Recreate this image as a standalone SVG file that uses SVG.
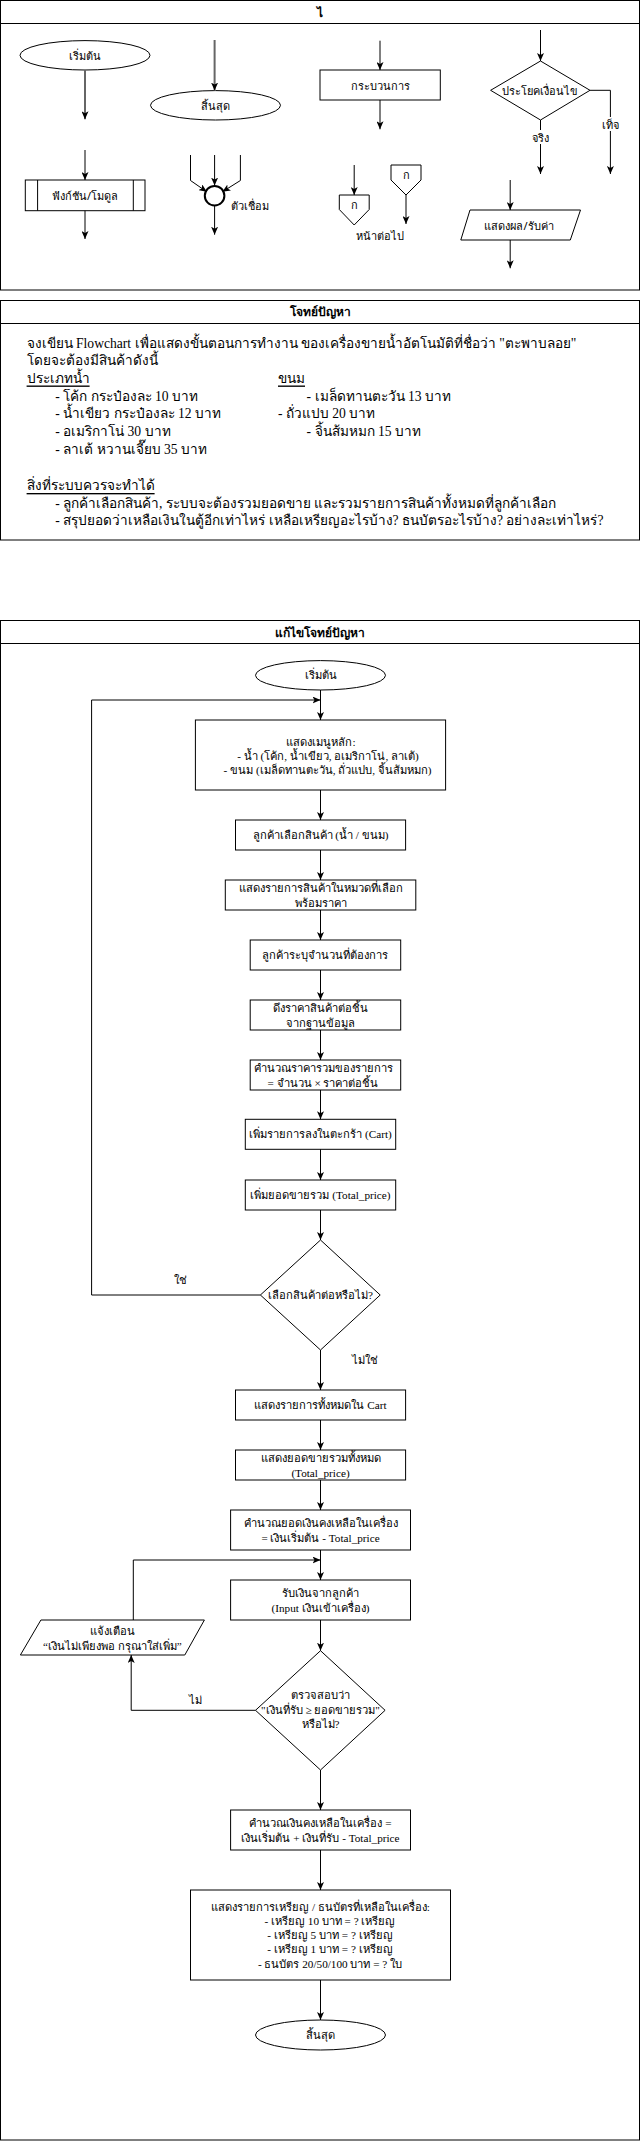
<svg xmlns="http://www.w3.org/2000/svg" width="641" height="2141" viewBox="0 0 641 2141">
<style>
  .frame{fill:#fff;stroke:#000;stroke-width:1}
  .shape{fill:#fff;stroke:#000;stroke-width:1}
  .ln{fill:none;stroke:#000;stroke-width:1}
  .arr{fill:none;stroke:#000;stroke-width:1;marker-end:url(#ah)}
  .garr{fill:none;stroke:#666;stroke-width:2;marker-end:url(#ah)}
  .sans{font-family:"Noto Sans","DejaVu Sans",sans-serif;font-size:11px;fill:#000}
  .ser{font-family:"Liberation Serif","Noto Serif","DejaVu Serif",serif;font-size:11.2px;fill:#000}
  .prob{font-family:"Liberation Serif","Noto Serif","DejaVu Serif",serif;font-size:13.6px;fill:#000}
  .ttl{font-family:"Liberation Serif","Noto Serif","DejaVu Serif",serif;font-size:12px;font-weight:bold;fill:#000}
  .c{text-anchor:middle;dominant-baseline:central}
  .l{text-anchor:start;dominant-baseline:central}
  .bg{fill:#fff;stroke:none}
</style>
<defs>
  <marker id="ah" viewBox="0 0 8 7" refX="8" refY="3.5" markerWidth="8" markerHeight="7" markerUnits="userSpaceOnUse" orient="auto">
    <path d="M0,0 L8,3.5 L0,7 L2,3.5 z" fill="#000"/>
  </marker>
</defs>
<rect width="641" height="2141" fill="#fff"/>

<!-- ===== Legend ===== -->
<g id="legend">
  <rect class="frame" x="0.5" y="0.5" width="639" height="289.5"/>
  <line class="ln" x1="0.5" y1="23.5" x2="639.5" y2="23.5"/>
  <text class="ttl c" x="320" y="13">ไ</text>
</g>
<g id="lg-start">
  <ellipse class="shape" cx="85" cy="55.3" rx="65" ry="14.7"/>
  <text class="sans c" x="85" y="55">เริ่มต้น</text>
</g>
<g id="lg-module">
  <rect class="shape" x="25.3" y="180" width="119.7" height="30.7"/>
  <line class="ln" x1="37.6" y1="180" x2="37.6" y2="210.7"/>
  <line class="ln" x1="133.3" y1="180" x2="133.3" y2="210.7"/>
  <text class="sans c" x="85" y="195.5">ฟังก์ชัน/โมดูล</text>
</g>
<g id="lg-end">
  <ellipse class="shape" cx="215.5" cy="105.3" rx="65" ry="14.7"/>
  <text class="sans c" x="215.5" y="105">สิ้นสุด</text>
</g>
<g id="lg-connector">
  <circle cx="214.6" cy="195.7" r="9.8" fill="#fff" stroke="#000" stroke-width="2"/>
  <text class="sans l" x="231" y="205">ตัวเชื่อม</text>
</g>
<g id="lg-process">
  <rect class="shape" x="320" y="70" width="120.3" height="30"/>
  <text class="sans c" x="380" y="85">กระบวนการ</text>
</g>
<g id="lg-offpage">
  <polygon class="shape" points="339.3,195 369.2,195 369.2,209.5 354.2,225 339.3,209.5"/>
  <text class="sans c" x="354.2" y="204">ก</text>
  <polygon class="shape" points="391,165 421,165 421,180 406,195 391,180"/>
  <text class="sans c" x="406" y="174">ก</text>
  <text class="sans c" x="380" y="235">หน้าต่อไป</text>
</g>
<g id="lg-decision">
  <polygon class="shape" points="540.5,61 590,90.3 540.5,120 490.6,90.3"/>
  <text class="sans c" x="540" y="90">ประโยคเงื่อนไข</text>
</g>
<g id="lg-io">
  <polygon class="shape" points="470,210 580.5,210 570.3,240 460.8,240"/>
  <text class="sans c" x="519" y="225">แสดงผล/รับค่า</text>
</g>

<g id="lg-connectors">
  <line class="garr" x1="85" y1="70" x2="85" y2="119.3"/>
  <line class="arr" x1="85" y1="150" x2="85" y2="180"/>
  <line class="arr" x1="85" y1="210.7" x2="85" y2="239"/>
  <line class="garr" x1="214.6" y1="40" x2="214.6" y2="90.6"/>
  <polyline class="arr" points="190.5,155 190.5,180.5 206.8,191.8"/>
  <line class="arr" x1="214.6" y1="155" x2="214.6" y2="185.6"/>
  <polyline class="arr" points="240.4,155 240.4,180.5 222.4,191.8"/>
  <line class="arr" x1="214.6" y1="205.8" x2="214.6" y2="234.7"/>
  <line class="arr" x1="380" y1="40.7" x2="380" y2="70"/>
  <line class="arr" x1="380" y1="100" x2="380" y2="129.3"/>
  <line class="arr" x1="354.2" y1="165" x2="354.2" y2="195"/>
  <line class="arr" x1="406" y1="195" x2="406" y2="224"/>
  <line class="arr" x1="540.5" y1="30" x2="540.5" y2="61"/>
  <polyline class="arr" points="590,90.3 610.4,90.3 610.4,174"/>
  <line class="arr" x1="540.5" y1="120" x2="540.5" y2="174"/>
  <rect class="bg" x="600" y="117" width="20" height="14"/>
  <text class="sans c" x="610" y="124">เท็จ</text>
  <rect class="bg" x="530" y="130" width="21" height="14"/>
  <text class="sans c" x="540.5" y="137.3">จริง</text>
  <line class="arr" x1="510.2" y1="180" x2="510.2" y2="210"/>
  <line class="arr" x1="510.2" y1="240" x2="510.2" y2="268.3"/>
</g>

<!-- ===== Problem ===== -->
<g id="problem">
  <rect class="frame" x="0.5" y="300.5" width="639" height="239.5"/>
  <line class="ln" x1="0.5" y1="323.5" x2="639.5" y2="323.5"/>
  <text class="ttl c" x="320" y="312">โจทย์ปัญหา</text>
  <text class="prob l" x="26.6" y="343">จงเขียน Flowchart เพื่อแสดงขั้นตอนการทำงาน ของเครื่องขายน้ำอัตโนมัติที่ชื่อว่า "ตะพาบลอย"</text>
  <text class="prob l" x="26.6" y="360.5">โดยจะต้องมีสินค้าดังนี้</text>
  <text class="prob l" x="26.6" y="378" text-decoration="underline">ประเภทน้ำ</text>
  <text class="prob l" x="278" y="378" text-decoration="underline">ขนม</text>
  <text class="prob l" x="55.2" y="396">- โค้ก กระป๋องละ 10 บาท</text>
  <text class="prob l" x="306.6" y="396">- เมล็ดทานตะวัน 13 บาท</text>
  <text class="prob l" x="55.2" y="413.3">- น้ำเขียว กระป๋องละ 12 บาท</text>
  <text class="prob l" x="278" y="413.3">- ถั่วแปบ 20 บาท</text>
  <text class="prob l" x="55.2" y="431">- อเมริกาโน่ 30 บาท</text>
  <text class="prob l" x="306.6" y="431">- จิ้นส้มหมก 15 บาท</text>
  <text class="prob l" x="55.2" y="449">- ลาเต้ หวานเจี๊ยบ 35 บาท</text>
  <text class="prob l" x="26.6" y="485.5" text-decoration="underline">สิ่งที่ระบบควรจะทำได้</text>
  <text class="prob l" x="55.2" y="503">- ลูกค้าเลือกสินค้า, ระบบจะต้องรวมยอดขาย และรวมรายการสินค้าทั้งหมดที่ลูกค้าเลือก</text>
  <text class="prob l" x="55.2" y="520.5">- สรุปยอดว่าเหลือเงินในตู้อีกเท่าไหร่ เหลือเหรียญอะไรบ้าง? ธนบัตรอะไรบ้าง? อย่างละเท่าไหร่?</text>
</g>

<!-- ===== Solution ===== -->
<g id="solution">
  <rect class="frame" x="0.5" y="620.5" width="639" height="1519.5"/>
  <line class="ln" x1="0.5" y1="643.5" x2="639.5" y2="643.5"/>
  <text class="ttl c" x="320" y="633.3">แก้ไขโจทย์ปัญหา</text>
</g>
<g id="s-start">
  <ellipse class="shape" cx="320.5" cy="675.3" rx="65" ry="14.7"/>
  <text class="ser c" x="320.5" y="675">เริ่มต้น</text>
</g>
<g id="s-menu">
  <rect class="shape" x="195.4" y="720" width="250.2" height="70"/>
  <text class="ser c" x="321" y="741.7">แสดงเมนูหลัก:</text>
  <text class="ser c" x="328" y="755.7">- น้ำ (โค้ก, น้ำเขียว, อเมริกาโน่, ลาเต้)</text>
  <text class="ser c" x="327.6" y="770">- ขนม (เมล็ดทานตะวัน, ถั่วแปบ, จิ้นส้มหมก)</text>
</g>
<g id="s-choose">
  <rect class="shape" x="235.5" y="820" width="170.1" height="30"/>
  <text class="ser c" x="320.5" y="835">ลูกค้าเลือกสินค้า (น้ำ / ขนม)</text>
</g>
<g id="s-list">
  <rect class="shape" x="225.3" y="880" width="190.5" height="30"/>
  <text class="ser c" x="320.5" y="888.3">แสดงรายการสินค้าในหมวดที่เลือก</text>
  <text class="ser c" x="320.5" y="903.3">พร้อมราคา</text>
</g>
<g id="s-qty">
  <rect class="shape" x="250.2" y="940" width="150.5" height="30"/>
  <text class="ser c" x="325.4" y="955">ลูกค้าระบุจำนวนที่ต้องการ</text>
</g>
<g id="s-price">
  <rect class="shape" x="250.2" y="1000" width="150.5" height="30"/>
  <text class="ser c" x="320.5" y="1008.3">ดึงราคาสินค้าต่อชิ้น</text>
  <text class="ser c" x="320.5" y="1023.3">จากฐานข้อมูล</text>
</g>
<g id="s-calc">
  <rect class="shape" x="250.2" y="1060" width="150.5" height="30"/>
  <text class="ser c" x="323" y="1068.3">คำนวณราคารวมของรายการ</text>
  <text class="ser c" x="323" y="1083.3">= จำนวน × ราคาต่อชิ้น</text>
</g>
<g id="s-cart">
  <rect class="shape" x="245.3" y="1119.3" width="150.4" height="30"/>
  <text class="ser c" x="320.5" y="1134.3">เพิ่มรายการลงในตะกร้า (Cart)</text>
</g>
<g id="s-total">
  <rect class="shape" x="245.3" y="1180" width="150.4" height="30"/>
  <text class="ser c" x="320.5" y="1195">เพิ่มยอดขายรวม (Total_price)</text>
</g>
<g id="s-more">
  <polygon class="shape" points="320.5,1240 380.2,1295 320.5,1350 260.4,1295"/>
  <text class="ser c" x="320.5" y="1295">เลือกสินค้าต่อหรือไม่?</text>
</g>
<g id="s-showcart">
  <rect class="shape" x="235.5" y="1390" width="170.1" height="30"/>
  <text class="ser c" x="320.5" y="1405">แสดงรายการทั้งหมดใน Cart</text>
</g>
<g id="s-showtotal">
  <rect class="shape" x="235.5" y="1450" width="170.1" height="30"/>
  <text class="ser c" x="320.5" y="1458.3">แสดงยอดขายรวมทั้งหมด</text>
  <text class="ser c" x="320.5" y="1473.3">(Total_price)</text>
</g>
<g id="s-balance">
  <rect class="shape" x="230.6" y="1510" width="179.9" height="40"/>
  <text class="ser c" x="320.5" y="1522.7">คำนวณยอดเงินคงเหลือในเครื่อง</text>
  <text class="ser c" x="320.5" y="1537.7">= เงินเริ่มต้น - Total_price</text>
</g>
<g id="s-receive">
  <rect class="shape" x="230.6" y="1580" width="179.9" height="40"/>
  <text class="ser c" x="320.5" y="1592.7">รับเงินจากลูกค้า</text>
  <text class="ser c" x="320.5" y="1607.7">(Input เงินเข้าเครื่อง)</text>
</g>
<g id="s-check">
  <polygon class="shape" points="320.5,1650.7 385.1,1710.3 320.5,1770 255.5,1710.3"/>
  <text class="ser c" x="320.5" y="1695">ตรวจสอบว่า</text>
  <text class="ser c" x="320.5" y="1710">"เงินที่รับ ≥ ยอดขายรวม"</text>
  <text class="ser c" x="320.5" y="1724.3">หรือไม่?</text>
</g>
<g id="s-warn">
  <polygon class="shape" points="40.9,1620 204.4,1620 184.8,1655 20.4,1655"/>
  <text class="ser c" x="112.4" y="1630.7">แจ้งเตือน</text>
  <text class="ser c" x="112.4" y="1645.7">“เงินไม่เพียงพอ กรุณาใส่เพิ่ม”</text>
</g>
<g id="s-final">
  <rect class="shape" x="230.6" y="1810" width="179.9" height="40"/>
  <text class="ser c" x="320.5" y="1823.3">คำนวณเงินคงเหลือในเครื่อง =</text>
  <text class="ser c" x="320.5" y="1837.7">เงินเริ่มต้น + เงินที่รับ - Total_price</text>
</g>
<g id="s-coins">
  <rect class="shape" x="190.5" y="1890" width="260" height="90"/>
  <text class="ser c" x="320.5" y="1907.3">แสดงรายการเหรียญ / ธนบัตรที่เหลือในเครื่อง:</text>
  <text class="ser c" x="330" y="1920.7">- เหรียญ 10 บาท = ? เหรียญ</text>
  <text class="ser c" x="330" y="1935">- เหรียญ 5 บาท = ? เหรียญ</text>
  <text class="ser c" x="330" y="1949.3">- เหรียญ 1 บาท = ? เหรียญ</text>
  <text class="ser c" x="330" y="1964">- ธนบัตร 20/50/100 บาท = ? ใบ</text>
</g>
<g id="s-end">
  <ellipse class="shape" cx="320.5" cy="2035" rx="65" ry="15"/>
  <text class="ser c" x="320.5" y="2035">สิ้นสุด</text>
</g>

<g id="s-connectors">
  <line class="ln" x1="320.5" y1="690" x2="320.5" y2="700"/>
  <line class="arr" x1="320.5" y1="700" x2="320.5" y2="720"/>
  <line class="arr" x1="320.5" y1="790" x2="320.5" y2="820"/>
  <line class="arr" x1="320.5" y1="850" x2="320.5" y2="880"/>
  <line class="arr" x1="320.5" y1="910" x2="320.5" y2="940"/>
  <line class="arr" x1="320.5" y1="970" x2="320.5" y2="1000"/>
  <line class="arr" x1="320.5" y1="1030" x2="320.5" y2="1060"/>
  <line class="arr" x1="320.5" y1="1090" x2="320.5" y2="1119.3"/>
  <line class="arr" x1="320.5" y1="1149.3" x2="320.5" y2="1180"/>
  <line class="arr" x1="320.5" y1="1210" x2="320.5" y2="1240"/>
  <polyline class="arr" points="260.4,1295 91.6,1295 91.6,700 320.5,700"/>
  <text class="ser c" x="180" y="1280">ใช่</text>
  <line class="arr" x1="320.5" y1="1350" x2="320.5" y2="1390"/>
  <text class="ser c" x="365" y="1360">ไม่ใช่</text>
  <line class="arr" x1="320.5" y1="1420" x2="320.5" y2="1450"/>
  <line class="arr" x1="320.5" y1="1480" x2="320.5" y2="1510"/>
  <line class="ln" x1="320.5" y1="1550" x2="320.5" y2="1560"/>
  <line class="arr" x1="320.5" y1="1560" x2="320.5" y2="1580"/>
  <polyline class="arr" points="133.3,1620 133.3,1560 320.5,1560"/>
  <line class="arr" x1="320.5" y1="1620" x2="320.5" y2="1650.7"/>
  <polyline class="arr" points="255.5,1710.3 131.2,1710.3 131.2,1655"/>
  <text class="ser c" x="195.4" y="1700">ไม่</text>
  <line class="arr" x1="320.5" y1="1770" x2="320.5" y2="1810"/>
  <line class="arr" x1="320.5" y1="1850" x2="320.5" y2="1890"/>
  <line class="arr" x1="320.5" y1="1980" x2="320.5" y2="2020"/>
</g>
</svg>
